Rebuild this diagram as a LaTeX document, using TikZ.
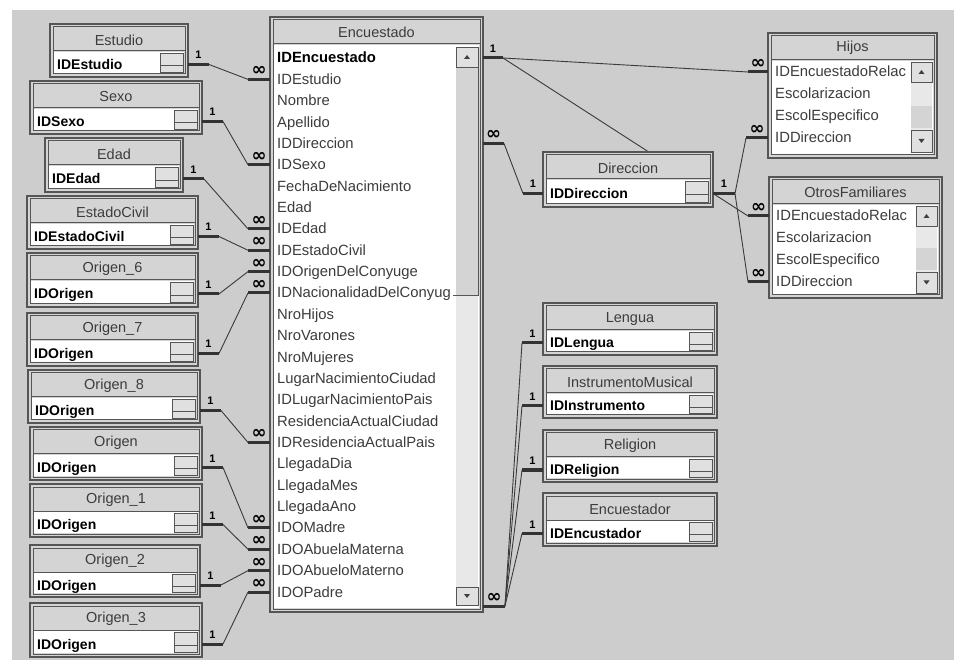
\documentclass[tikz,border=0pt]{standalone}
\usepackage{fontspec}
\setmainfont{Liberation Sans}
\newfontfamily\symfont{DejaVu Sans}
\usetikzlibrary{calc}
\definecolor{canvas}{HTML}{CDCDCD}
\definecolor{titlebar}{HTML}{D4D4D4}
\definecolor{framecol}{HTML}{555555}
\definecolor{linecol}{HTML}{3A3A3A}
\definecolor{txtgray}{HTML}{3C3C3C}
\definecolor{trackcol}{HTML}{E8E8E8}

\pgfdeclarelayer{canvaslayer}
\pgfdeclarelayer{linelayer}
\pgfsetlayers{canvaslayer,linelayer,main}

\tikzset{
  tabframe/.style={draw=framecol, line width=1.6pt, fill=titlebar},
  tabinner/.style={draw=framecol, line width=1pt},
  titletxt/.style={font=\fontsize{14.5}{15}\selectfont, text=txtgray, inner sep=0pt},
  keytxt/.style={font=\fontsize{14}{15}\selectfont\bfseries, anchor=base west, inner sep=0pt},
  listtxt/.style={font=\fontsize{14.8}{15}\selectfont, text=txtgray, anchor=base west, inner sep=0pt},
  stub/.style={line width=3pt, draw=black!80},
  rel/.style={line width=0.9pt, draw=linecol},
  onelab/.style={font=\fontsize{11}{11}\selectfont\bfseries, inner sep=0pt, above=4pt},
  manylab/.style={font=\symfont\fontsize{18}{18}\selectfont\bfseries, inner sep=0pt, above=2pt},
  sbtn/.style={fill=black!12, draw=framecol, line width=0.6pt},
}

% scroll buttons
\newcommand{\upbtn}[4]{%
  \draw[sbtn] (#1,#2) rectangle (#3,#4);
  \fill[black!75] ({(#1+#3)/2-3},{(#2+#4)/2+2}) -- ({(#1+#3)/2+3},{(#2+#4)/2+2}) -- ({(#1+#3)/2},{(#2+#4)/2-2}) -- cycle;
}
\newcommand{\downbtn}[4]{%
  \draw[sbtn] (#1,#2) rectangle (#3,#4);
  \fill[black!75] ({(#1+#3)/2-3},{(#2+#4)/2-2}) -- ({(#1+#3)/2+3},{(#2+#4)/2-2}) -- ({(#1+#3)/2},{(#2+#4)/2+2}) -- cycle;
}

% one-field table: id, x1, y1, x2, y2, title, key field
\newcommand{\smalltab}[7]{%
  \draw[tabframe] (#2,#3) rectangle (#4,#5);
  \draw[tabinner] (#2+3,#3+3) rectangle (#4-3,#5-3);
  \draw[tabinner] (#2+3,#3+27) -- (#4-3,#3+27);
  \node[titletxt] (#1-t) at ({(#2+#4)/2},#3+16) {#6};
  \fill[white] (#2+4,#3+28) rectangle (#4-4,#5-4);
  \node[keytxt] (#1-f) at (#2+7,{(#3+#5)/2+19}) {#7};
  \draw[sbtn] (#4-28,#3+29) rectangle (#4-5,{(#3+#5)/2+15});
  \draw[sbtn] (#4-28,{(#3+#5)/2+15}) rectangle (#4-5,#5-5);
  \coordinate (#1-l) at (#2,{(#3+#5)/2+14});
  \coordinate (#1-r) at (#4,{(#3+#5)/2+14});
}

% list table frame: id, x1, y1, x2, y2, title
\newcommand{\listtab}[6]{%
  \draw[tabframe] (#2,#3) rectangle (#4,#5);
  \draw[tabinner] (#2+3,#3+3) rectangle (#4-3,#5-3);
  \draw[tabinner] (#2+3,#3+27) -- (#4-3,#3+27);
  \node[titletxt] (#1-t) at ({(#2+#4)/2},#3+15) {#6};
  \fill[white] (#2+4,#3+28) rectangle (#4-4,#5-4);
}

\begin{document}
\begin{tikzpicture}[x=1pt, y=-1pt]
\useasboundingbox (0,0) rectangle (954,660);
\begin{pgfonlayer}{canvaslayer}
  \fill[white] (0,0) rectangle (954,660);
  \fill[canvas] (12,10) rectangle (954,660);
\end{pgfonlayer}

% --- left lookup tables ---
\smalltab{estudio}{50}{24}{188}{77}{Estudio}{IDEstudio}
\smalltab{sexo}{30}{81}{202}{134}{Sexo}{IDSexo}
\smalltab{edad}{45}{138}{183}{192}{Edad}{IDEdad}
\smalltab{civil}{27}{196}{198}{249}{EstadoCivil}{IDEstadoCivil}
\smalltab{orig6}{27}{253}{198}{307}{Origen\_6}{IDOrigen}
\smalltab{orig7}{27}{313}{198}{366}{Origen\_7}{IDOrigen}
\smalltab{orig8}{28}{370}{200}{423}{Origen\_8}{IDOrigen}
\smalltab{orig}{30}{427}{202}{480}{Origen}{IDOrigen}
\smalltab{orig1}{30}{484}{202}{537}{Origen\_1}{IDOrigen}
\smalltab{orig2}{30}{545}{200}{597}{Origen\_2}{IDOrigen}
\smalltab{orig3}{30}{603}{202}{657}{Origen\_3}{IDOrigen}

% --- main table ---
\listtab{enc}{270}{17}{483}{612}{Encuestado}
\foreach \f [count=\i] in {{{\color{black}\bfseries IDEncuestado}}, IDEstudio, Nombre, Apellido,
    IDDireccion, IDSexo, FechaDeNacimiento, Edad, IDEdad, IDEstadoCivil,
    IDOrigenDelConyuge, IDNacionalidadDelConyug, NroHijos, NroVarones, NroMujeres,
    LugarNacimientoCiudad, IDLugarNacimientoPais, ResidenciaActualCiudad,
    IDResidenciaActualPais, LlegadaDia, LlegadaMes, LlegadaAno, IDOMadre,
    IDOAbuelaMaterna, IDOAbueloMaterno, IDOPadre}{
  \node[listtxt] (enc\i) at (277,{63+21.36*(\i-1)}) {\f};
  \coordinate (encL\i) at (270,{58+21.36*(\i-1)});
  \coordinate (encR\i) at (483,{58+21.36*(\i-1)});
}
\fill[titlebar] (456,67) rectangle (478,295);
\draw[framecol, line width=0.8pt] (478,67) -- (478,295) -- (453,295);
\fill[trackcol] (456,296) rectangle (478,587);
\upbtn{456}{47}{478}{67}
\downbtn{456}{587}{478}{605}
\coordinate (encB) at (483,606);

% --- right tables ---
\listtab{hijos}{768}{33}{937}{158}{Hijos}
\foreach \f [count=\i] in {IDEncuestadoRelac, Escolarizacion, EscolEspecifico, IDDireccion}{
  \node[listtxt] (hijos\i) at (775,{77+22*(\i-1)}) {\f};
  \coordinate (hijosL\i) at (768,{72+22*(\i-1)});
}
\fill[trackcol] (911,82) rectangle (932,130);
\fill[titlebar] (911,106) rectangle (932,128);
\upbtn{911}{62}{932}{82}
\downbtn{911}{130}{932}{152}

\listtab{otros}{769}{177}{942}{298}{OtrosFamiliares}
\foreach \f [count=\i] in {IDEncuestadoRelac, Escolarizacion, EscolEspecifico, IDDireccion}{
  \node[listtxt] (otros\i) at (776,{221+22*(\i-1)}) {\f};
  \coordinate (otrosL\i) at (769,{216+22*(\i-1)});
}
\fill[trackcol] (916,226) rectangle (937,272);
\fill[titlebar] (916,248) rectangle (937,270);
\upbtn{916}{206}{937}{226}
\downbtn{916}{272}{937}{293}

\smalltab{dir}{543}{152}{713}{207}{Direccion}{IDDireccion}
\smalltab{lengua}{543}{303}{717}{355}{Lengua}{IDLengua}
\smalltab{instr}{543}{366}{717}{418}{InstrumentoMusical}{IDInstrumento}
\smalltab{relig}{543}{430}{717}{482}{Religion}{IDReligion}
\smalltab{encu}{543}{493}{717}{546}{Encuestador}{IDEncustador}

% --- relationships, left side ---
\foreach \t/\r in {estudio/2, sexo/6, edad/9, civil/10, orig6/11, orig7/12,
    orig8/19, orig/23, orig1/24, orig2/25, orig3/26}{
  \draw[stub] (\t-r) -- node[onelab] {1} ++(21,0) coordinate (\t-j);
  \draw[stub] (encL\r) -- node[manylab] {∞} ++(-22,0) coordinate (encJ\r);
}

% --- relationships, right side ---
\draw[stub] (encR1) -- node[onelab] {1} ++(20,0) coordinate (encK1);
\draw[stub] (encR5) -- node[manylab] {∞} ++(21,0) coordinate (encK5);
\draw[stub] (encB) -- node[manylab] {∞} ++(22,0) coordinate (encBj);
\draw[stub] (hijosL1) -- node[manylab] {∞} ++(-20,0) coordinate (hijosJ1);
\draw[stub] (hijosL4) -- node[manylab] {∞} ++(-22,0) coordinate (hijosJ4);
\draw[stub] (otrosL1) -- node[manylab] {∞} ++(-21,0) coordinate (otrosJ1);
\draw[stub] (otrosL4) -- node[manylab] {∞} ++(-21,0) coordinate (otrosJ4);
\draw[stub] (dir-l) -- node[onelab] {1} ++(-20,0) coordinate (dirJL);
\draw[stub] (dir-r) -- node[onelab] {1} ++(22,0) coordinate (dirJR);
\foreach \t in {lengua, instr, relig, encu}{
  \draw[stub] (\t-l) -- node[onelab] {1} ++(-21,0) coordinate (\t-j);
}

\begin{pgfonlayer}{linelayer}
  \foreach \t/\r in {estudio/2, sexo/6, edad/9, civil/10, orig6/11, orig7/12,
      orig8/19, orig/23, orig1/24, orig2/25, orig3/26}{
    \draw[rel] (\t-j) -- (encJ\r);
  }
  \draw[rel] (encK1) -- (hijosJ1);
  \draw[rel] (encK1) -- (otrosJ1); % runs under Direccion
  \draw[rel] (encK5) -- (dirJL);
  \draw[rel] (dirJR) -- (hijosJ4);
  \draw[rel] (dirJR) -- (otrosJ4);
  \foreach \t in {lengua, instr, relig, encu}{
    \draw[rel] (encBj) -- (\t-j);
  }
\end{pgfonlayer}

\end{tikzpicture}
\end{document}
